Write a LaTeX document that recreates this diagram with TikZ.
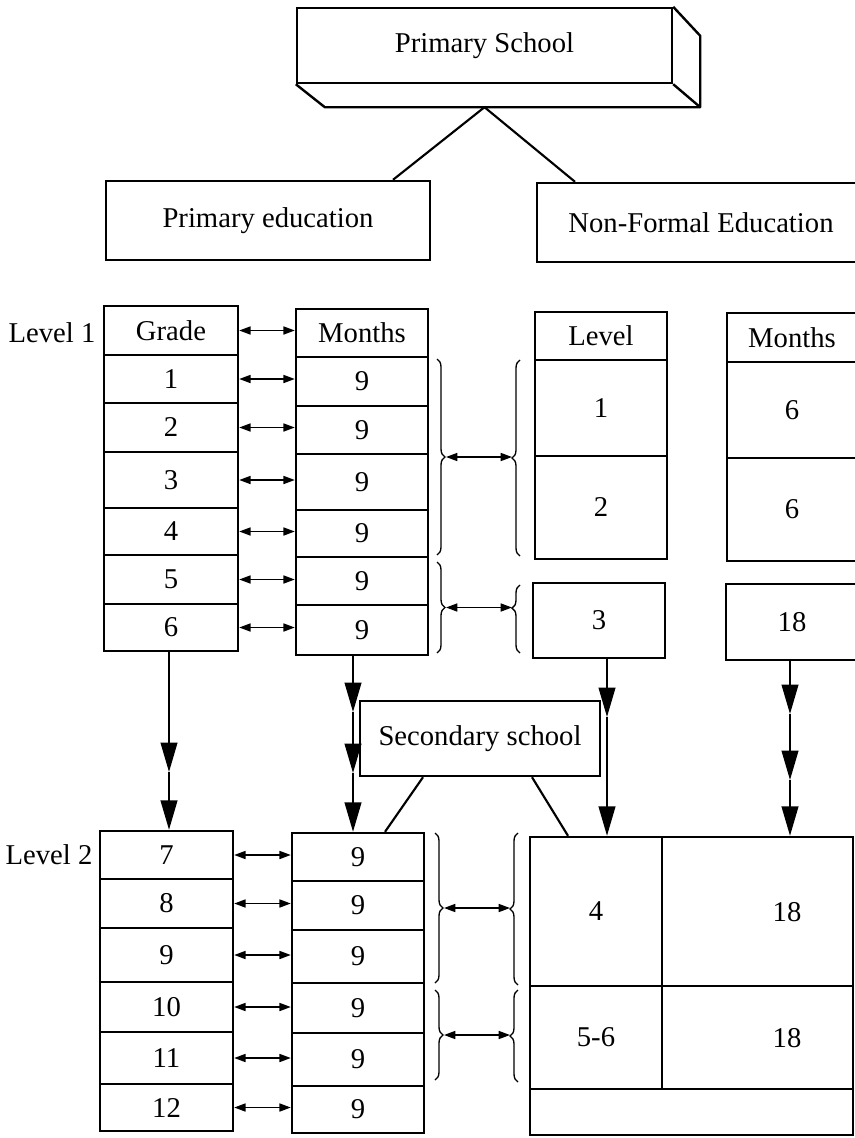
\documentclass[tikz,border=0pt]{standalone}
\usepackage{fontspec}
\setmainfont{Liberation Serif}
\usetikzlibrary{arrows.meta,decorations.pathreplacing,calc}
\begin{document}
\begin{tikzpicture}[x=0.75pt,y=-0.75pt,
  txt/.style={font=\fontsize{21.5}{25}\selectfont},
  cell/.style={draw,line width=1.8pt,inner sep=0pt,txt},
  sz/.style 2 args={minimum width={#1*0.75pt},minimum height={#2*0.75pt}},
  dbl/.style={line width=1.2pt,{Triangle[length=8.5pt,width=6pt]}-{Triangle[length=8.5pt,width=6pt]}},
  down/.style={line width=1.4pt,-{Triangle[length=22pt,width=12.5pt]}},
  link/.style={line width=1.6pt},
  brc/.style={line width=1pt,decorate,decoration={brace,amplitude=6pt,#1}},
  brc/.default={aspect=0.5}
]
\useasboundingbox (0,0) rectangle (855,1138);

% top
\node[cell,sz={375}{75}] (ps) at (484.5,45.5) {Primary School};
\path (ps.south west) ++(29,23) coordinate (psA);
\path (ps.south east) ++(27,23) coordinate (psB);
\path (ps.north east) ++(27,29) coordinate (psC);
\draw[line width=1.8pt,line join=round] (ps.south west) -- (psA) -- (psB) -- (psC) -- (ps.north east);
\draw[line width=1.8pt] (ps.south east) -- (psB);

\node[cell,sz={324}{79}] (pe) at (268,220.5) {Primary education};
\node[cell,sz={328}{79}] (nfe) at (701,222.5) {Non-Formal Education};
\draw[link] (ps.south |- psA) -- ($(pe.north)+(125,0)$);
\draw[link] (ps.south |- psA) -- ($(nfe.north)+(-126,0)$);

% level labels
\node[txt] (lv1) at (52,333) {Level 1};
\node[txt] (lv2) at (49,855) {Level 2};

% Grade column
\node[cell,sz={134}{49}] (g0) at (171,330.5) {Grade};
\node[cell,sz={134}{48}] (g1) at (171,379) {1};
\node[cell,sz={134}{49}] (g2) at (171,427.5) {2};
\node[cell,sz={134}{56}] (g3) at (171,480) {3};
\node[cell,sz={134}{47}] (g4) at (171,531.5) {4};
\node[cell,sz={134}{49}] (g5) at (171,579.5) {5};
\node[cell,sz={134}{47}] (g6) at (171,627.5) {6};

% Months column level 1
\node[cell,sz={132}{48}] (m0) at (362,333) {Months};
\node[cell,sz={132}{49}] (m1) at (362,381.5) {9};
\node[cell,sz={132}{48}] (m2) at (362,430) {9};
\node[cell,sz={132}{56}] (m3) at (362,482) {9};
\node[cell,sz={132}{47}] (m4) at (362,533.5) {9};
\node[cell,sz={132}{48}] (m5) at (362,581) {9};
\node[cell,sz={132}{50}] (m6) at (362,630) {9};

\foreach \i in {0,...,6}{\draw[dbl] (g\i.east) -- (g\i.east -| m\i.west);}

% NFE level 1
\node[cell,sz={132}{48}] (v0) at (601,336) {Level};
\node[cell,sz={132}{96}] (v1) at (601,408) {1};
\node[cell,sz={132}{103}] (v2) at (601,507.5) {2};
\node[cell,sz={130}{49}] (n0) at (792,337.5) {Months};
\node[cell,sz={130}{96}] (n1) at (792,410) {6};
\node[cell,sz={130}{103}] (n2) at (792,509.5) {6};
\node[cell,sz={132}{75}] (b3) at (599,620.5) {3};
\node[cell,sz={132}{76}] (b18) at (792,622) {18};

% braces level 1
\draw[brc] (437,359) -- (437,555);
\draw[brc] (437,562) -- (437,653);
\draw[brc] (520,556) -- (520,360);
\draw[brc={aspect=0.66}] (520,653) -- (520,585);
\coordinate (tA1) at (446,457);
\coordinate (tB1) at (512,457);
\coordinate (tA2) at (446,607.5);
\coordinate (tB2) at (512,607.5);
\draw[dbl] (tA1) -- (tB1);
\draw[dbl] (tA2) -- (tB2);

% level 2 left columns
\node[cell,sz={133}{48}] (l7) at (166.5,855) {7};
\node[cell,sz={133}{49}] (l8) at (166.5,903.5) {8};
\node[cell,sz={133}{54}] (l9) at (166.5,955) {9};
\node[cell,sz={133}{50}] (l10) at (166.5,1007) {10};
\node[cell,sz={133}{52}] (l11) at (166.5,1058) {11};
\node[cell,sz={133}{47}] (l12) at (166.5,1107.5) {12};
\node[cell,sz={132}{48}] (r7) at (358,857) {9};
\node[cell,sz={132}{49}] (r8) at (358,905.5) {9};
\node[cell,sz={132}{53}] (r9) at (358,956.5) {9};
\node[cell,sz={132}{50}] (r10) at (358,1008) {9};
\node[cell,sz={132}{53}] (r11) at (358,1059.5) {9};
\node[cell,sz={132}{47}] (r12) at (358,1109.5) {9};
\foreach \i in {7,...,12}{\draw[dbl] (l\i.east) -- (l\i.east -| r\i.west);}

% big box level 2
\node[cell,sz={132}{149}] (c4) at (596,911.5) {4};
\node[cell,sz={191}{149}] (c18a) at (757.5,911.5) {};
\node[cell,sz={132}{103}] (c56) at (596,1037.5) {5-6};
\node[cell,sz={191}{103}] (c18b) at (757.5,1037.5) {};
\node[cell,sz={323}{46}] (cb) at (691.5,1112) {};
\node[txt] (t18a) at (787,912) {18};
\node[txt] (t18b) at (787,1038) {18};

% braces level 2
\draw[brc] (435,833) -- (435,983);
\draw[brc] (435,990) -- (435,1080);
\draw[brc] (518,985) -- (518,833);
\draw[brc] (518,1082) -- (518,990);
\coordinate (tC1) at (444,908);
\coordinate (tD1) at (510,908);
\coordinate (tC2) at (444,1035);
\coordinate (tD2) at (510,1035);
\draw[dbl] (tC1) -- (tD1);
\draw[dbl] (tC2) -- (tD2);

% secondary school
\node[cell,sz={240}{75}] (ss) at (480,738.5) {Secondary school};
\draw[link] ($(ss.south)+(-57,0)$) -- ($(r7.north)+(27,0)$);
\draw[link] ($(ss.south)+(52,0)$) -- ($(c4.north)+(-28,0)$);

% down arrows
\coordinate (gA) at (169,772);
\draw[down] (g6.south -| gA) -- (gA);
\draw[down] (gA) -- (gA |- l7.north);
\coordinate (mA) at (353,712);
\coordinate (mB) at (353,773);
\draw[down] (m6.south -| mA) -- (mA);
\draw[down] (mA) -- (mB);
\draw[down] (mB) -- (mB |- r7.north);
\coordinate (tA) at (607,717);
\draw[down] (b3.south -| tA) -- (tA);
\draw[down] (tA) -- (tA |- c4.north);
\coordinate (eA) at (790,714);
\coordinate (eB) at (790,780);
\draw[down] (b18.south -| eA) -- (eA);
\draw[down] (eA) -- (eB);
\draw[down] (eB) -- (eB |- c18a.north);
\end{tikzpicture}
\end{document}
